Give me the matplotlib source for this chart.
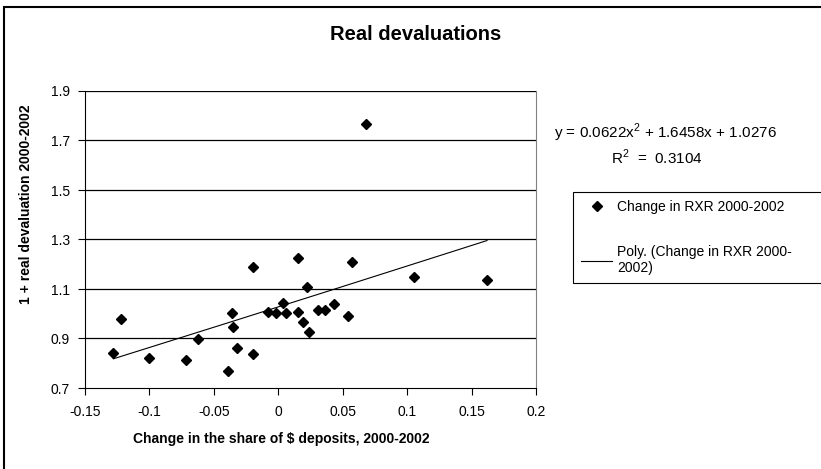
import matplotlib
matplotlib.use('Agg')
import matplotlib.pyplot as plt
from matplotlib.patches import Rectangle
import numpy as np

plt.rcParams['font.family'] = ['Liberation Sans', 'DejaVu Sans']
plt.rcParams['mathtext.fontset'] = 'custom'
plt.rcParams['mathtext.rm'] = 'Liberation Sans'

# share of $ deposits change vs 1 + real devaluation
share_change = [-0.128, -0.122, -0.100, -0.072, -0.062, -0.039, -0.036, -0.035,
                -0.032, -0.020, -0.020, -0.008, -0.002, 0.004, 0.006, 0.015,
                0.015, 0.019, 0.022, 0.024, 0.031, 0.036, 0.043, 0.054,
                0.057, 0.068, 0.105, 0.162]
rxr_change = [0.841, 0.980, 0.820, 0.813, 0.898, 0.769, 1.004, 0.945,
              0.860, 1.188, 0.839, 1.007, 1.004, 1.043, 1.004, 1.225,
              1.007, 0.968, 1.110, 0.927, 1.016, 1.016, 1.039, 0.989,
              1.208, 1.767, 1.149, 1.136]

# polynomial trend as printed on the chart
poly_coef = [0.0622, 1.6458, 1.0276]
r_squared = 0.3104

xticks = [-0.15, -0.1, -0.05, 0, 0.05, 0.1, 0.15, 0.2]
xtick_labels = ['-0.15', '-0.1', '-0.05', '0', '0.05', '0.1', '0.15', '0.2']
yticks = [0.7, 0.9, 1.1, 1.3, 1.5, 1.7, 1.9]

W, H = 821, 469
fig = plt.figure(figsize=(W / 100, H / 100), dpi=100)
ax = fig.add_axes([85 / W, 1 - 388 / H, 451 / W, 297 / H])

# gridlines
for yv in yticks[1:]:
    ax.axhline(yv, color='black', lw=0.9, zorder=1)

ax.plot(share_change, rxr_change, 'D', color='black', ms=5.4, linestyle='none',
        label='Change in RXR 2000-2002', zorder=3)

xs = np.linspace(min(share_change), max(share_change), 200)
ax.plot(xs, np.polyval(poly_coef, xs), color='black', lw=0.8,
        label='Poly. (Change in RXR 2000-\n2002)', zorder=2)

ax.set_xlim(-0.15, 0.2)
ax.set_ylim(0.7, 1.9)
ax.set_xticks(xticks)
ax.set_xticklabels(xtick_labels)
ax.set_yticks(yticks)
ax.set_yticklabels(['%.1f' % v for v in yticks])
ax.tick_params(axis='x', direction='out', length=5, pad=7, labelsize=10)
ax.tick_params(axis='y', direction='out', length=5, pad=6, labelsize=10)

ax.spines['right'].set_color('#808080')
ax.spines['top'].set_visible(False)
for s in ['left', 'bottom']:
    ax.spines[s].set_color('black')

fig.text(416 / W, 1 - 34 / H, 'Real devaluations', ha='center', va='center',
         fontsize=14.5, fontweight='bold')
fig.text(281 / W, 1 - 439 / H, 'Change in the share of $ deposits, 2000-2002',
         ha='center', va='center', fontsize=10, fontweight='bold')
fig.text(26 / W, 1 - 204 / H, '1 + real devaluation 2000-2002', ha='center',
         va='center', rotation=90, fontsize=10, fontweight='bold')

eq = 'y = %.4fx$^2$ + %.4fx + %.4f' % tuple(poly_coef)
fig.text(665 / W, 1 - 133 / H, eq, ha='center', va='center', fontsize=11)
fig.text(657 / W, 1 - 157 / H, 'R$^2$  =  %.4f' % r_squared, ha='center',
         va='center', fontsize=11)

leg = ax.legend(loc='upper left', bbox_to_anchor=(573 / W, 1 - 284 / H, 260 / W, 92 / H),
                bbox_transform=fig.transFigure, mode='expand', fontsize=10,
                frameon=True, fancybox=False, framealpha=1, edgecolor='black',
                handlelength=2.2, handletextpad=0.4, labelspacing=2.2,
                borderpad=0.6, borderaxespad=0)
leg.get_frame().set_linewidth(0.8)

# chart area border
fig.patches.append(Rectangle((3.5 / W, -0.1), 1.2, 1.1 - 7 / H, transform=fig.transFigure,
                             fill=False, edgecolor='black', lw=1.5))

fig.savefig('out.png', dpi=100)
